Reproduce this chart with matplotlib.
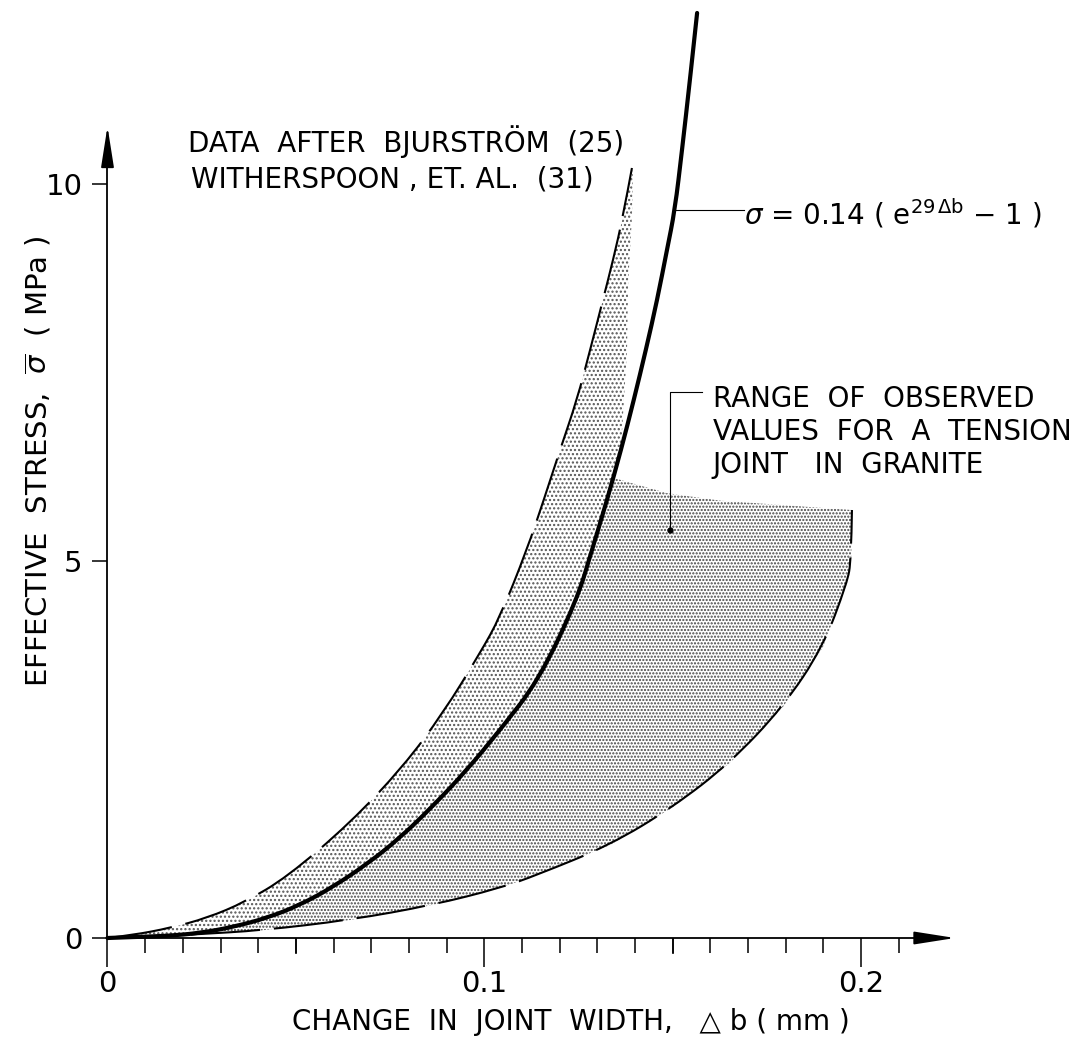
import matplotlib
matplotlib.use("Agg")
import matplotlib.pyplot as plt
from matplotlib.patches import Polygon, PathPatch
from matplotlib.path import Path
import numpy as np

plt.rcParams['font.family'] = ['DejaVu Sans']
plt.rcParams['mathtext.fontset'] = 'dejavusans'
plt.rcParams['lines.scale_dashes'] = False
plt.rcParams['hatch.linewidth'] = 1.05

# fitted curve, sigma = 0.14 (e^(29 db) - 1)
fit_db = [0.0, 0.0068, 0.0158, 0.0246, 0.0333, 0.0423, 0.0511, 0.0598, 0.0689, 0.0776,
          0.0864, 0.0954, 0.1042, 0.1145, 0.1246, 0.1286, 0.1326, 0.1363, 0.1397, 0.1429,
          0.1459, 0.1485, 0.1506, 0.1525, 0.1546, 0.1565]
fit_sig = [0.0, 0.013, 0.027, 0.066, 0.146, 0.265, 0.438, 0.676, 0.981, 1.326,
           1.751, 2.228, 2.759, 3.422, 4.483, 5.146, 5.809, 6.472, 7.135, 7.798,
           8.462, 9.125, 9.655, 10.451, 11.379, 12.268]

# upper dashed bound (Bjurstrom / Witherspoon data)
upper_db = [0.0, 0.0068, 0.0166, 0.0264, 0.0365, 0.0477, 0.0644, 0.0784, 0.0891, 0.0989,
            0.1042, 0.1113, 0.1158, 0.1201, 0.1246, 0.1281, 0.1315, 0.1342, 0.1368, 0.1392]
upper_sig = [0.0, 0.040, 0.133, 0.265, 0.477, 0.809, 1.525, 2.268, 2.984, 3.780,
             4.257, 5.146, 5.809, 6.472, 7.135, 7.798, 8.462, 8.992, 9.562, 10.212]

# right edge of the light band under the dashed line
band_edge_db = [0.1395, 0.1392, 0.1382, 0.1379, 0.1368]
band_edge_sig = [10.19, 9.56, 8.69, 7.80, 6.91]

# lower dashed bound of the granite range
lower_db = [0.0, 0.0113, 0.0246, 0.0405, 0.0644, 0.0864, 0.1042, 0.1140, 0.1334, 0.1501,
            0.1652, 0.1793, 0.1899, 0.1963, 0.1974, 0.1976]
lower_sig = [0.0, 0.013, 0.053, 0.099, 0.239, 0.438, 0.663, 0.836, 1.233, 1.737,
             2.321, 3.064, 3.859, 4.708, 5.013, 5.676]

# top of the granite stipple
top_db = [0.1337, 0.1485, 0.1626, 0.1976]
top_sig = [6.11, 5.90, 5.80, 5.676]

x_major = [0, 0.1, 0.2]
x_labels = ['0', '0.1', '0.2']
x_minor = [i / 100 for i in range(22) if i % 10 != 0]
x_mid = [0.05, 0.15]
y_major = [0, 5, 10]
y_labels = ['0', '5', '10']


def smooth_path(xs, ys):
    # quadratic bezier through the read points (drawing only)
    pts = list(zip(xs, ys))
    verts = [pts[0]]
    codes = [Path.MOVETO]
    for i in range(1, len(pts) - 1):
        if i == len(pts) - 2:
            end = pts[-1]
        else:
            end = ((pts[i][0] + pts[i + 1][0]) / 2, (pts[i][1] + pts[i + 1][1]) / 2)
        verts += [pts[i], end]
        codes += [Path.CURVE3, Path.CURVE3]
    return Path(verts, codes)


fig = plt.figure(figsize=(10.71, 10.39), dpi=100)
ax = fig.add_axes([0, 0, 1, 1])
ax.set_xlim(-0.02853, 0.25574)
ax.set_ylim(-1.3395, 12.440)

# stippled regions
fit_db_a = np.array(fit_db)
fit_sig_a = np.array(fit_sig)
keep = fit_sig_a <= 6.5
band = list(zip(upper_db, upper_sig)) + list(zip(band_edge_db, band_edge_sig)) \
    + list(zip(fit_db_a[keep][::-1], fit_sig_a[keep][::-1]))
ax.add_patch(Polygon(band, closed=True, facecolor='none', edgecolor='#555555',
                     linewidth=0, hatch='....', zorder=1))
keep2 = fit_sig_a < 6.11
granite = list(zip(fit_db_a[keep2], fit_sig_a[keep2])) + list(zip(top_db, top_sig)) \
    + list(zip(lower_db[::-1], lower_sig[::-1]))
ax.add_patch(Polygon(granite, closed=True, facecolor='none', edgecolor='#444444',
                     linewidth=0, hatch='.....', zorder=1))

# curves
ax.add_patch(PathPatch(smooth_path(upper_db, upper_sig), fill=False, edgecolor='black',
                       lw=1.5, ls=(0, (47, 10)), zorder=3))
ax.add_patch(PathPatch(smooth_path(lower_db, lower_sig), fill=False, edgecolor='black',
                       lw=1.5, ls=(0, (50, 10)), zorder=3))
ax.add_patch(PathPatch(smooth_path(fit_db, fit_sig), fill=False, edgecolor='black',
                       lw=3.0, capstyle='round', zorder=4))

# axes
for s in ['top', 'right']:
    ax.spines[s].set_visible(False)
ax.spines['left'].set_position(('data', 0))
ax.spines['bottom'].set_position(('data', 0))
ax.spines['left'].set_bounds(0, 10.5)
ax.spines['bottom'].set_bounds(0, 0.22)
ax.spines['left'].set_linewidth(1.3)
ax.spines['bottom'].set_linewidth(1.3)
ax.annotate('', xy=(0.2257, 0), xytext=(0.218, 0),
            arrowprops=dict(arrowstyle='-|>,head_length=1.4,head_width=0.22',
                            color='black', lw=1.3, mutation_scale=18))
ax.annotate('', xy=(0, 10.8), xytext=(0, 10.3),
            arrowprops=dict(arrowstyle='-|>,head_length=1.4,head_width=0.22',
                            color='black', lw=1.3, mutation_scale=18))

ax.set_xticks(x_major)
ax.set_xticklabels(x_labels)
ax.set_xticks(x_minor, minor=True)
ax.set_yticks(y_major)
ax.set_yticklabels(y_labels)
ax.tick_params(axis='x', which='major', direction='out', length=21, width=1.1,
               labelsize=21, pad=2)
ax.tick_params(axis='x', which='minor', direction='out', length=11, width=1.1)
ax.tick_params(axis='y', which='major', direction='out', length=11, width=1.1,
               labelsize=21, pad=7)
ax.vlines(x_mid, -16.5 / 75.4, 0, color='black', lw=1.1)

# labels
ax.text(0.0355, 0.5563, r'EFFECTIVE  STRESS,  $\overline{\sigma}$  ( MPa )',
        transform=ax.transAxes, rotation=90, ha='center', va='center', fontsize=21)
ax.text(0.533, 0.0087, 'CHANGE  IN  JOINT  WIDTH,   \u25b3 b ( mm )',
        transform=ax.transAxes, ha='center', va='baseline', fontsize=20)

ax.text(0.0214, 10.42, 'DATA  AFTER  BJURSTR\u00d6M  (25)', fontsize=20, va='baseline')
ax.text(0.0222, 9.95, 'WITHERSPOON , ET. AL.  (31)', fontsize=20, va='baseline')

ax.plot([0.1506, 0.1689], [9.655, 9.655], color='black', lw=0.8)
ax.text(0.1690, 9.456, r'$\sigma$ = 0.14 ( e$^{29\,\Delta \mathrm{b}}$ $-$ 1 )',
        fontsize=20, va='baseline')

ax.plot([0.1578, 0.1493, 0.1493], [7.24, 7.24, 5.41], color='black', lw=0.8)
ax.plot([0.1493], [5.41], 'o', color='black', ms=3.5)
ax.text(0.1607, 7.04, 'RANGE  OF  OBSERVED', fontsize=20, va='baseline')
ax.text(0.1607, 6.60, 'VALUES  FOR  A  TENSION', fontsize=20, va='baseline')
ax.text(0.1607, 6.17, 'JOINT   IN  GRANITE', fontsize=20, va='baseline')

fig.savefig('out.png', dpi=100)
